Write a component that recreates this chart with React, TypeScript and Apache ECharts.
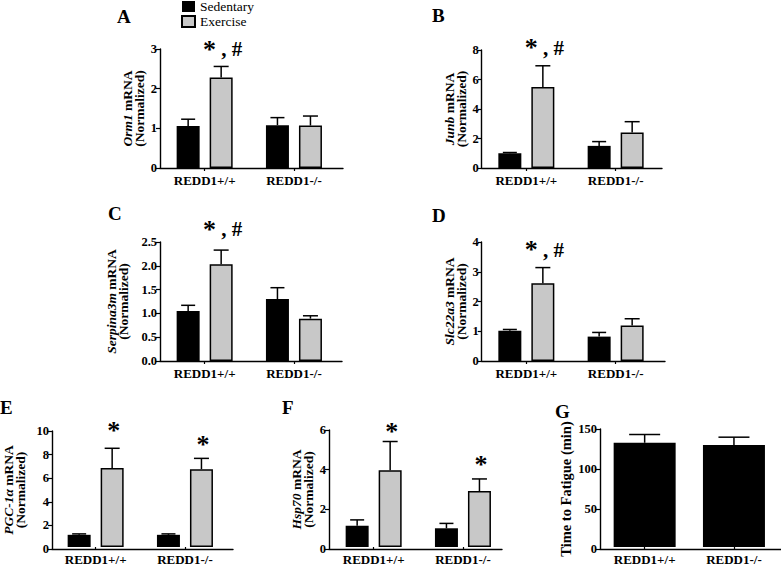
import React, { useEffect, useRef } from "react";
import * as echarts from "echarts";

// ---------- data ----------
const categories = ["REDD1+/+", "REDD1-/-"];
const groupNames = ["Sedentary", "Exercise"];

const orm1Sedentary = [1.06, 1.08];
const orm1SedentarySem = [0.17, 0.19];
const orm1Exercise = [2.28, 1.07];
const orm1ExerciseSem = [0.28, 0.24];
const orm1Marks = ["* , #", ""];
const orm1Ticks = [0, 1, 2, 3];

const junbSedentary = [1.0, 1.5];
const junbSedentarySem = [0.05, 0.29];
const junbExercise = [5.49, 2.4];
const junbExerciseSem = [1.44, 0.74];
const junbMarks = ["* , #", ""];
const junbTicks = [0, 2, 4, 6, 8];

const serpina3mSedentary = [1.05, 1.3];
const serpina3mSedentarySem = [0.12, 0.24];
const serpina3mExercise = [2.03, 0.89];
const serpina3mExerciseSem = [0.3, 0.06];
const serpina3mMarks = ["* , #", ""];
const serpina3mTicks = [0, 0.5, 1.0, 1.5, 2.0, 2.5];

const slc22a3Sedentary = [1.02, 0.82];
const slc22a3SedentarySem = [0.04, 0.14];
const slc22a3Exercise = [2.61, 1.19];
const slc22a3ExerciseSem = [0.53, 0.23];
const slc22a3Marks = ["* , #", ""];
const slc22a3Ticks = [0, 1, 2, 3, 4];

const pgc1aSedentary = [1.05, 1.05];
const pgc1aSedentarySem = [0.08, 0.08];
const pgc1aExercise = [6.8, 6.71];
const pgc1aExerciseSem = [1.71, 0.93];
const pgc1aMarks = ["*", "*"];
const pgc1aTicks = [0, 2, 4, 6, 8, 10];

const hsp70Sedentary = [1.09, 0.96];
const hsp70SedentarySem = [0.3, 0.25];
const hsp70Exercise = [3.94, 2.87];
const hsp70ExerciseSem = [1.47, 0.62];
const hsp70Marks = ["*", "*"];
const hsp70Ticks = [0, 2, 4, 6];

const fatigueTime = [132.5, 129.6];
const fatigueTimeSem = [10.5, 10];
const fatigueTicks = [0, 50, 100, 150];

// ---------- panels (data refs + layout) ----------
type Panel = {
  letter: string;
  gene: string;
  sed: number[];
  sedSem: number[];
  ex?: number[];
  exSem?: number[];
  marks?: string[];
  ticks: number[];
  decimals: number;
  lx: number;
  ly: number;
  axisX: number;
  top: number;
  bottom: number;
  right: number;
  nameGap: number;
  annGap: number[];
};

const panels: Panel[] = [
  { letter: "A", gene: "Orm1", sed: orm1Sedentary, sedSem: orm1SedentarySem, ex: orm1Exercise, exSem: orm1ExerciseSem, marks: orm1Marks, ticks: orm1Ticks, decimals: 0,
    lx: 117, ly: 16, axisX: 160, top: 49, bottom: 168, right: 343, nameGap: 12, annGap: [17, 17] },
  { letter: "B", gene: "Junb", sed: junbSedentary, sedSem: junbSedentarySem, ex: junbExercise, exSem: junbExerciseSem, marks: junbMarks, ticks: junbTicks, decimals: 0,
    lx: 432, ly: 15, axisX: 481.7, top: 50, bottom: 168, right: 662, nameGap: 13.5, annGap: [18, 18] },
  { letter: "C", gene: "Serpina3m", sed: serpina3mSedentary, sedSem: serpina3mSedentarySem, ex: serpina3mExercise, exSem: serpina3mExerciseSem, marks: serpina3mMarks, ticks: serpina3mTicks, decimals: 1,
    lx: 108, ly: 213.5, axisX: 160, top: 242, bottom: 361, right: 342, nameGap: 31, annGap: [21, 21] },
  { letter: "D", gene: "Slc22a3", sed: slc22a3Sedentary, sedSem: slc22a3SedentarySem, ex: slc22a3Exercise, exSem: slc22a3ExerciseSem, marks: slc22a3Marks, ticks: slc22a3Ticks, decimals: 0,
    lx: 432, ly: 215, axisX: 481.7, top: 242, bottom: 361, right: 665, nameGap: 13.5, annGap: [18, 18] },
  { letter: "E", gene: "PGC-1\u03b1", sed: pgc1aSedentary, sedSem: pgc1aSedentarySem, ex: pgc1aExercise, exSem: pgc1aExerciseSem, marks: pgc1aMarks, ticks: pgc1aTicks, decimals: 0,
    lx: 0, ly: 407, axisX: 51, top: 431, bottom: 549, right: 233, nameGap: 26, annGap: [18, 14] },
  { letter: "F", gene: "Hsp70", sed: hsp70Sedentary, sedSem: hsp70SedentarySem, ex: hsp70Exercise, exSem: hsp70ExerciseSem, marks: hsp70Marks, ticks: hsp70Ticks, decimals: 0,
    lx: 282, ly: 407.5, axisX: 329, top: 430, bottom: 549, right: 502, nameGap: 12, annGap: [10, 14] },
  { letter: "G", gene: "", sed: fatigueTime, sedSem: fatigueTimeSem, ticks: fatigueTicks, decimals: 0,
    lx: 555, ly: 411, axisX: 600, top: 429, bottom: 549, right: 781, nameGap: 27, annGap: [0, 0] },
];

const SERIF = "'Liberation Serif', 'Times New Roman', serif";
const BLACK = "#000000";
const GREY = "#c8c8c8";
const CAT_STEP = 89.3;
const BAR_W = 23;
const BAR_GAP = 0.435;
const PAIR_OFFSET = (BAR_W + BAR_W * BAR_GAP) / 2;

function markText(mark: string) {
  // asterisk drawn larger than the comma and hash, as in the figure
  return mark
    .split("")
    .map((ch) => (ch === "*" ? "{s|*}" : `{t|${ch}}`))
    .join("");
}

function errorSeries(
  name: string,
  xi: number,
  yi: number,
  means: number[],
  sems: number[],
  offset: number,
  cap: number,
  marks?: string[],
  annGap?: number[]
) {
  return {
    type: "custom",
    name,
    xAxisIndex: xi,
    yAxisIndex: yi,
    z: 5,
    silent: true,
    clip: false,
    data: means.map((m, i) => [i, m, m + sems[i]]),
    renderItem: (params: any, api: any) => {
      const i = api.value(0);
      const base = api.coord([i, api.value(1)]);
      const tp = api.coord([i, api.value(2)]);
      const x = base[0] + offset;
      const children: any[] = [
        { type: "line", shape: { x1: x, y1: base[1], x2: x, y2: tp[1] }, style: { stroke: BLACK, lineWidth: 1.5 } },
        { type: "line", shape: { x1: x - cap / 2, y1: tp[1], x2: x + cap / 2, y2: tp[1] }, style: { stroke: BLACK, lineWidth: 1.5 } },
      ];
      const mark = marks ? marks[params.dataIndex] : "";
      if (mark) {
        children.push({
          type: "text",
          style: {
            text: markText(mark),
            x: x + 1.5,
            y: tp[1] - (annGap ? annGap[params.dataIndex] : 16),
            align: "center",
            verticalAlign: "middle",
            fill: BLACK,
            rich: {
              s: { fontFamily: SERIF, fontWeight: "bold", fontSize: 26, lineHeight: 24, fill: BLACK, verticalAlign: "middle" },
              t: { fontFamily: SERIF, fontWeight: "bold", fontSize: 21, lineHeight: 24, fill: BLACK, verticalAlign: "middle" },
            },
          },
        });
      }
      return { type: "group", children };
    },
  };
}

function buildOption() {
  const grid: any[] = [];
  const xAxis: any[] = [];
  const yAxis: any[] = [];
  const series: any[] = [];
  const graphic: any[] = [];
  const axisLineStyle = { color: BLACK, width: 1.4 };

  panels.forEach((p) => {
    const fi = grid.length;
    const bi = fi + 1;
    const min = p.ticks[0];
    const max = p.ticks[p.ticks.length - 1];
    const interval = p.ticks[1] - p.ticks[0];
    const h = p.bottom - p.top;

    grid.push({ left: p.axisX, top: p.top, width: p.right - p.axisX, height: h });
    grid.push({ left: p.axisX, top: p.top, width: CAT_STEP * 2, height: h });

    const isG = p.letter === "G";
    const name = isG
      ? "Time to Fatigue (min)"
      : `{i|${p.gene}}{b| mRNA}\n{b|(Normalized)}`;

    xAxis.push({
      gridIndex: fi,
      type: "value",
      min: 0,
      max: 1,
      axisLine: { show: true, onZero: false, lineStyle: axisLineStyle },
      axisTick: { show: false },
      axisLabel: { show: false },
      splitLine: { show: false },
    });
    yAxis.push({
      gridIndex: fi,
      type: "value",
      min,
      max,
      interval,
      axisLine: { show: true, onZero: false, lineStyle: axisLineStyle },
      axisTick: { show: true, length: 4, lineStyle: { color: BLACK, width: 1.2 } },
      axisLabel: {
        color: BLACK,
        fontFamily: SERIF,
        fontWeight: "bold",
        fontSize: 12.5,
        margin: 3,
        formatter: (v: number) => v.toFixed(p.decimals),
      },
      splitLine: { show: false },
      name,
      nameLocation: "middle",
      nameRotate: 90,
      nameGap: p.nameGap,
      nameTextStyle: isG
        ? { color: BLACK, fontFamily: SERIF, fontWeight: "bold", fontSize: 14.5 }
        : {
            color: BLACK,
            fontFamily: SERIF,
            fontWeight: "bold",
            fontSize: 13.5,
            lineHeight: 12,
            rich: {
              i: { fontFamily: SERIF, fontWeight: "bold", fontStyle: "italic", fontSize: 13.5, lineHeight: 12, color: BLACK },
              b: { fontFamily: SERIF, fontWeight: "bold", fontSize: 13.5, lineHeight: 12, color: BLACK },
            },
          },
    });
    xAxis.push({
      gridIndex: bi,
      type: "category",
      data: categories,
      axisLine: { show: false },
      axisTick: { show: true, alignWithLabel: true, length: 3, lineStyle: { color: BLACK, width: 1.2 } },
      axisLabel: { color: BLACK, fontFamily: SERIF, fontWeight: "bold", fontSize: 13, margin: 6 },
      splitLine: { show: false },
    });
    yAxis.push({ gridIndex: bi, type: "value", min, max, interval, show: false, splitLine: { show: false } });

    if (isG) {
      series.push({
        type: "bar",
        name: "Time to Fatigue",
        xAxisIndex: xAxis.length - 1,
        yAxisIndex: yAxis.length - 1,
        data: p.sed,
        barWidth: 62,
        itemStyle: { color: BLACK },
        silent: true,
      });
      series.push(errorSeries("Time to Fatigue SEM", xAxis.length - 1, yAxis.length - 1, p.sed, p.sedSem, 0, 31));
    } else {
      series.push({
        type: "bar",
        name: groupNames[0],
        xAxisIndex: xAxis.length - 1,
        yAxisIndex: yAxis.length - 1,
        data: p.sed,
        barWidth: BAR_W,
        barGap: `${BAR_GAP * 100}%`,
        itemStyle: { color: BLACK },
        silent: true,
      });
      series.push({
        type: "bar",
        name: groupNames[1],
        xAxisIndex: xAxis.length - 1,
        yAxisIndex: yAxis.length - 1,
        data: p.ex,
        barWidth: BAR_W,
        barGap: `${BAR_GAP * 100}%`,
        itemStyle: { color: GREY, borderColor: BLACK, borderWidth: 1.5 },
        silent: true,
      });
      series.push(errorSeries("Sedentary SEM", xAxis.length - 1, yAxis.length - 1, p.sed, p.sedSem, -PAIR_OFFSET, 14));
      series.push(
        errorSeries("Exercise SEM", xAxis.length - 1, yAxis.length - 1, p.ex as number[], p.exSem as number[], PAIR_OFFSET, 15, p.marks, p.annGap)
      );
    }

    graphic.push({
      type: "text",
      x: p.lx,
      y: p.ly,
      style: {
        text: p.letter,
        fontFamily: SERIF,
        fontWeight: "bold",
        fontSize: 19,
        fill: BLACK,
        align: "left",
        verticalAlign: "middle",
      },
    });
  });

  return {
    animation: false,
    backgroundColor: "#ffffff",
    legend: {
      data: groupNames,
      orient: "vertical",
      left: 181,
      top: -1,
      padding: 0,
      itemWidth: 13,
      itemHeight: 11,
      itemGap: 0,
      icon: "rect",
      selectedMode: false,
      textStyle: { color: BLACK, fontFamily: SERIF, fontSize: 13.5, lineHeight: 15 },
    },
    grid,
    xAxis,
    yAxis,
    series,
    graphic,
  };
}

export default function App() {
  const ref = useRef<HTMLDivElement>(null);
  useEffect(() => {
    if (!ref.current) return;
    const chart = echarts.init(ref.current, undefined, { renderer: "svg" });
    chart.setOption(buildOption() as any);
    return () => chart.dispose();
  }, []);
  return (
    <div
      ref={ref}
      style={{ position: "absolute", left: 0, top: 0, width: 781, height: 566, background: "#fff" }}
    />
  );
}
